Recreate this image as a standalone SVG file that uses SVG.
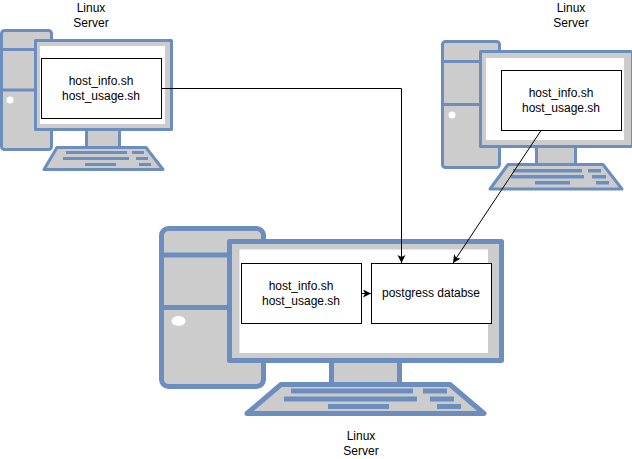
<svg xmlns="http://www.w3.org/2000/svg" width="632" height="459" viewBox="0 0 632 459">
<style>
.p{fill:#ccc;stroke:#6c8ebf;stroke-linejoin:round}
.s{stroke-width:3}
.b{stroke-width:5}
.d{fill:none;stroke:#6c8ebf}
.n{fill:#ccc;stroke:none}
.w{fill:#fff;stroke:none}
.k{fill:#6c8ebf;stroke:none}
.box{fill:#fff;stroke:#000;stroke-width:1}
text{font-family:"Liberation Sans",Arial,sans-serif;font-size:12px;fill:#000;text-anchor:middle}
.c{fill:none;stroke:#000;stroke-width:1}
</style>
<defs><marker id="a" markerUnits="userSpaceOnUse" markerWidth="10" markerHeight="10" refX="8" refY="4" orient="auto"><path d="M0 0L8 4L0 8L2 4Z" fill="#000"/></marker></defs>
<g id="computer-left">
<rect class="p s" x="1.500" y="30.500" width="50" height="119" rx="3"/>
<path class="d s" d="M2 49.500H36M2 90H36"/>
<circle class="w" cx="10" cy="100" r="3.500"/>
<rect class="p s" x="35.500" y="40.500" width="136" height="89"/>
<rect class="w" x="40" y="46" width="125" height="78"/>
<rect class="n" x="86.500" y="131" width="33" height="16"/>
<path class="d s" d="M86.500 131V147M119.500 131V147"/>
<path class="p s" d="M57 147.500H146L163 169.500H44Z"/>
<path class="k" d="M66 151h61v3h-61zM132 151h12v3h-12zM63 157h66v3h-66zM136 157h12v3h-12zM85 163h31v3h-31zM139 163h12v3h-12z"/>
<rect class="box" x="41.500" y="58.500" width="120" height="60"/>
<text x="101" y="85">host_info.sh</text><text x="101" y="100">host_usage.sh</text>
<text x="91" y="12">Linux</text><text x="91" y="27">Server</text>
</g>
<g id="computer-right">
<rect class="p s" x="442.500" y="41.500" width="57" height="126" rx="3"/>
<path class="d s" d="M443 61.500H481M443 104.500H481"/>
<circle class="w" cx="452" cy="115" r="3.500"/>
<rect class="p s" x="480.500" y="51.500" width="152" height="95"/>
<rect class="w" x="486" y="58" width="138" height="82"/>
<rect class="n" x="537" y="148" width="38" height="17"/>
<path class="d s" d="M536.500 148V165M575.500 148V165"/>
<path class="p s" d="M508 164.500H603L622 189H490Z"/>
<path class="k" d="M513 169h69v3.500h-69zM588 169h13v3.500h-13zM511 175h73v3.500h-73zM592 175h14v3.500h-14zM535 181h35v3.500h-35zM596 181h13v3.500h-13z"/>
<rect class="box" x="501.500" y="70.500" width="120" height="60"/>
<text x="561" y="97">host_info.sh</text><text x="561" y="112">host_usage.sh</text>
<text x="571" y="12">Linux</text><text x="571" y="27">Server</text>
</g>
<g id="computer-database">
<rect class="p b" x="161.500" y="228.500" width="102" height="158" rx="7"/>
<path class="d b" d="M162 255H230M162 307.500H230"/>
<ellipse class="w" cx="178.500" cy="321" rx="7" ry="5"/>
<rect class="p b" x="229.500" y="241.500" width="272" height="119"/>
<rect class="w" x="239.500" y="249.500" width="248.500" height="103.500"/>
<rect class="n" x="331.500" y="363" width="68" height="20"/>
<path class="d b" d="M331.500 363V383M399.500 363V383"/>
<path class="p b" d="M281 384.500H450L484 413.500H247Z"/>
<path class="k" d="M291 388.500h122v5h-122zM423 388.500h24v5h-24zM284 396.500h133v5h-133zM430 396.500h24v5h-24zM328 404h61v5h-61zM437 404h24v5h-24z"/>
<rect class="box" x="241.500" y="263.500" width="120" height="60"/>
<text x="301" y="290">host_info.sh</text><text x="301" y="305">host_usage.sh</text>
<rect class="box" x="371.500" y="263.500" width="120" height="60"/>
<text x="431" y="297">postgress databse</text>
<text x="361" y="440">Linux</text><text x="361" y="455">Server</text>
</g>
<g id="connectors">
<path class="c" d="M161.500 88.500H401.500V263" marker-end="url(#a)"/>
<path class="c" d="M541 130.500L453 263" marker-end="url(#a)"/>
<path class="c" d="M361.500 293.500H371" marker-end="url(#a)"/>
</g>
</svg>
